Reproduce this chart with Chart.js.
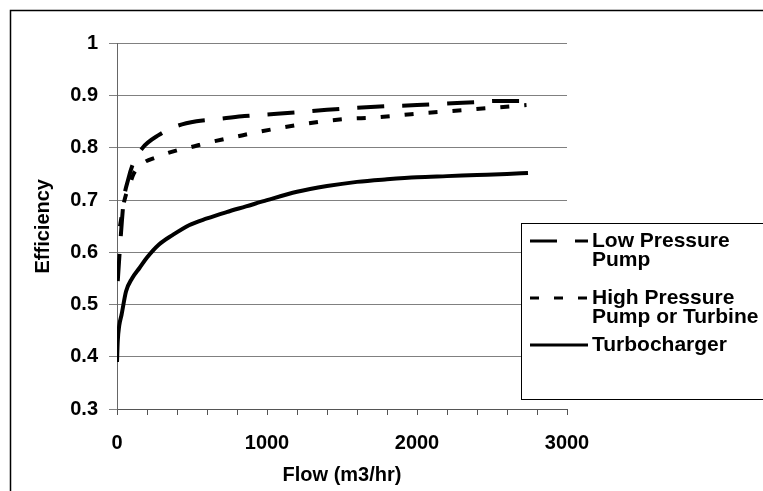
<!DOCTYPE html>
<html>
<head>
<meta charset="utf-8">
<script src="https://cdn.jsdelivr.net/npm/chart.js@4.4.0/dist/chart.umd.min.js"></script>
<style>
  html, body { margin: 0; padding: 0; background: #fff; }
  #wrap { width: 763px; height: 491px; }
</style>
</head>
<body>
<div id="wrap"><canvas id="effChart" width="763" height="491"></canvas></div>
<script>
// Efficiency vs flow
const lowFlow = [5, 20, 30, 45, 75, 107, 170, 280, 380, 530, 700, 850, 1000, 1200, 1400, 1600, 1800, 2000, 2200, 2400, 2530, 2700, 2730];
const lowEff = [0.545, 0.61, 0.65, 0.70, 0.74, 0.77, 0.80, 0.825, 0.84, 0.851, 0.856, 0.861, 0.864, 0.868, 0.873, 0.877, 0.880, 0.882, 0.885, 0.888, 0.890, 0.890, 0.879];

const highFlow = [20, 50, 85, 110, 170, 260, 420, 470, 620, 800, 950, 1100, 1250, 1400, 1550, 1700, 1900, 2050, 2200, 2380, 2550, 2730];
const highEff = [0.65, 0.70, 0.73, 0.75, 0.77, 0.782, 0.797, 0.800, 0.811, 0.822, 0.831, 0.839, 0.846, 0.852, 0.856, 0.858, 0.863, 0.867, 0.870, 0.874, 0.878, 0.882];

const turboFlow = [0, 5, 15, 30, 60, 100, 150, 200, 280, 370, 480, 600, 730, 860, 1000, 1200, 1400, 1600, 1800, 2000, 2200, 2400, 2600, 2740];
const turboEff = [0.39, 0.43, 0.46, 0.48, 0.525, 0.55, 0.57, 0.59, 0.615, 0.633, 0.652, 0.665, 0.677, 0.688, 0.70, 0.716, 0.727, 0.735, 0.740, 0.744, 0.746, 0.748, 0.750, 0.752];

const seriesNames = ['Low Pressure Pump', 'High Pressure Pump or Turbine', 'Turbocharger'];
const legendLines = [['Low Pressure', 'Pump'], ['High Pressure', 'Pump or Turbine'], ['Turbocharger']];

const xMajorTicks = [0, 1000, 2000, 3000];
const xMinorStep = 200;
const yTicks = [0.3, 0.4, 0.5, 0.6, 0.7, 0.8, 0.9, 1];

const FONT = '"Liberation Sans", Arial, sans-serif';

function toPoints(xs, ys) {
    return xs.map((x, i) => ({ x: x, y: ys[i] }));
}

// Outer chart frame (only top and left edges show in the picture)
const framePlugin = {
    id: 'frame',
    afterDraw(chart) {
        const ctx = chart.ctx;
        ctx.save();
        ctx.strokeStyle = '#000';
        ctx.lineWidth = 1.5;
        ctx.strokeRect(10.5, 10.5, 900, 900);
        ctx.restore();
    }
};

// Boxed legend with wrapped labels, drawn on top of the plot
const boxLegendPlugin = {
    id: 'boxLegend',
    afterDraw(chart) {
        const ctx = chart.ctx;
        const box = { left: 521, top: 223, right: 900, bottom: 399 };
        const rowOffsets = [18, 75, 122];
        const lineGap = 19;
        ctx.save();
        ctx.fillStyle = '#fff';
        ctx.fillRect(box.left, box.top, box.right - box.left, box.bottom - box.top);
        ctx.strokeStyle = '#000';
        ctx.lineWidth = 1;
        ctx.strokeRect(box.left + 0.5, box.top + 0.5, box.right - box.left, box.bottom - box.top);

        chart.data.datasets.forEach((ds, i) => {
            const y = box.top + rowOffsets[i];
            ctx.beginPath();
            ctx.setLineDash(ds.borderDash || []);
            ctx.lineWidth = 3;
            ctx.strokeStyle = ds.borderColor;
            ctx.moveTo(530, y);
            ctx.lineTo(588, y);
            ctx.stroke();
            ctx.setLineDash([]);

            ctx.fillStyle = '#000';
            ctx.font = 'bold 21px ' + FONT;
            ctx.textBaseline = 'middle';
            ctx.textAlign = 'left';
            legendLines[i].forEach((line, j) => {
                ctx.fillText(line, 592, y + j * lineGap);
            });
        });
        ctx.restore();
    }
};

const ctx = document.getElementById('effChart').getContext('2d');

new Chart(ctx, {
    type: 'line',
    data: {
        datasets: [{
            label: seriesNames[0],
            data: toPoints(lowFlow, lowEff),
            borderColor: '#000',
            borderWidth: 4,
            borderDash: [27, 18],
            pointRadius: 0,
            cubicInterpolationMode: 'monotone',
            fill: false
        }, {
            label: seriesNames[1],
            data: toPoints(highFlow, highEff),
            borderColor: '#000',
            borderWidth: 4,
            borderDash: [9, 15],
            pointRadius: 0,
            cubicInterpolationMode: 'monotone',
            fill: false
        }, {
            label: seriesNames[2],
            data: toPoints(turboFlow, turboEff),
            borderColor: '#000',
            borderWidth: 4,
            pointRadius: 0,
            cubicInterpolationMode: 'monotone',
            fill: false
        }]
    },
    options: {
        responsive: false,
        animation: false,
        layout: {
            padding: { left: 0, top: 43.5, right: 196, bottom: 0 }
        },
        scales: {
            x: {
                type: 'linear',
                min: 0,
                max: 3000,
                afterBuildTicks: scale => {
                    const ticks = [];
                    for (let v = 0; v <= 3000; v += xMinorStep) ticks.push({ value: v });
                    scale.ticks = ticks;
                },
                afterFit: scale => { scale.height = 82; },
                border: { color: '#555', width: 1 },
                grid: {
                    drawOnChartArea: false,
                    drawTicks: true,
                    tickLength: 6,
                    color: '#555'
                },
                ticks: {
                    autoSkip: false,
                    maxRotation: 0,
                    padding: 16,
                    color: '#000',
                    font: { family: FONT, size: 20, weight: 'bold' },
                    callback: value => xMajorTicks.includes(value) ? String(value) : ''
                },
                title: {
                    display: true,
                    text: 'Flow (m3/hr)',
                    color: '#000',
                    font: { family: FONT, size: 20, weight: 'bold' },
                    padding: { top: 0, bottom: 4 }
                }
            },
            y: {
                type: 'linear',
                min: 0.3,
                max: 1,
                afterBuildTicks: scale => {
                    scale.ticks = yTicks.map(v => ({ value: v }));
                },
                afterFit: scale => { scale.width = 117; },
                border: { color: '#666', width: 1 },
                grid: {
                    color: '#808080',
                    lineWidth: 1,
                    drawTicks: true,
                    tickLength: 8
                },
                ticks: {
                    padding: 11,
                    color: '#000',
                    font: { family: FONT, size: 20, weight: 'bold' },
                    callback: value => String(Math.round(value * 10) / 10)
                },
                title: {
                    display: true,
                    text: 'Efficiency',
                    color: '#000',
                    font: { family: FONT, size: 20, weight: 'bold' },
                    padding: { top: 31, bottom: 0 }
                }
            }
        },
        plugins: {
            legend: { display: false },
            tooltip: { enabled: false }
        }
    },
    plugins: [framePlugin, boxLegendPlugin]
});
</script>
</body>
</html>
